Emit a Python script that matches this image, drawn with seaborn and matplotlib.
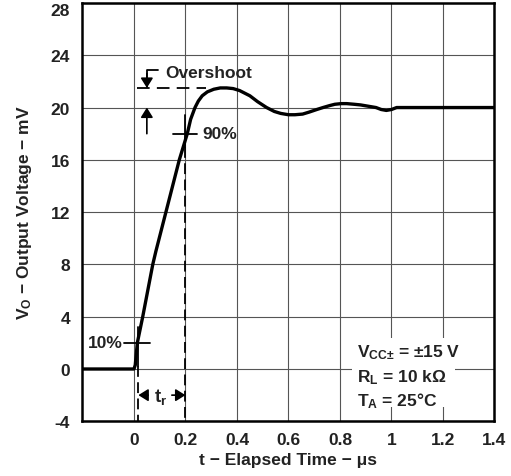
import matplotlib
matplotlib.use("Agg")
import matplotlib.pyplot as plt
import seaborn as sns
import pandas as pd

# ---- data ----
time_us = [-0.2, 0.0, 0.005, 0.013, 0.034, 0.073, 0.085, 0.124, 0.176, 0.207, 0.22, 0.237,
           0.25, 0.265, 0.285, 0.31, 0.335, 0.36, 0.385, 0.41, 0.45, 0.48, 0.515, 0.545,
           0.57, 0.6, 0.625, 0.655, 0.68, 0.71, 0.734, 0.76, 0.78, 0.805, 0.826, 0.855,
           0.88, 0.91, 0.94, 0.96, 0.98, 1.0, 1.02, 1.4]
vout_mv = [0, 0, 0.3, 2, 4, 8, 9, 12, 16, 18, 19.1, 20.0,
           20.5, 20.9, 21.2, 21.4, 21.5, 21.5, 21.45, 21.3, 20.9, 20.45, 20.0, 19.7,
           19.55, 19.45, 19.45, 19.5, 19.65, 19.85, 20.0, 20.15, 20.25, 20.3, 20.3, 20.25,
           20.2, 20.1, 20.0, 19.85, 19.78, 19.85, 20.0, 20.0]
x_ticks = [0, 0.2, 0.4, 0.6, 0.8, 1.0, 1.2, 1.4]
x_tick_labels = ["0", "0.2", "0.4", "0.6", "0.8", "1", "1.2", "1.4"]
y_ticks = [-4, 0, 4, 8, 12, 16, 20, 24, 28]
overshoot_level = 21.5
final_level = 20
t10, v10 = 0.017, 2
t90, v90 = 0.2, 18

sns.set_theme(style="white")
plt.rcParams["font.family"] = ["Liberation Sans", "DejaVu Sans"]
plt.rcParams["font.weight"] = "bold"
plt.rcParams["mathtext.fontset"] = "custom"
plt.rcParams["mathtext.rm"] = "Liberation Sans:bold"
plt.rcParams["mathtext.bf"] = "Liberation Sans:bold"
plt.rcParams["mathtext.it"] = "Liberation Sans:bold"
plt.rcParams["mathtext.default"] = "bf"

FS = 12.5
TXT = "#222222"

fig = plt.figure(figsize=(5.11, 4.77), dpi=100)
ax = fig.add_axes([0.1614, 0.1147, 0.8063, 0.877])

df = pd.DataFrame({"t": time_us, "v": vout_mv})
sns.lineplot(data=df, x="t", y="v", ax=ax, color="black", linewidth=2.4, zorder=5)

ax.set_xlim(-0.2, 1.4)
ax.set_ylim(-4, 28)
ax.set_xticks(x_ticks)
ax.set_xticklabels(x_tick_labels)
ax.set_yticks(y_ticks)
ax.set_yticklabels([str(y) for y in y_ticks])
ax.tick_params(axis="both", length=0, labelsize=FS)
ax.tick_params(axis="y", pad=9)
ax.tick_params(axis="x", pad=8)
for lab in ax.get_xticklabels() + ax.get_yticklabels():
    lab.set_fontweight("bold")
    lab.set_color(TXT)
ax.get_yticklabels()[-1].set_verticalalignment("top")

ax.grid(True, color="#555555", linewidth=0.8)
for s in ax.spines.values():
    s.set_color("black")
    s.set_linewidth(1.8)

ax.set_xlabel("t \u2212 Elapsed Time \u2212 \u03bcs", fontsize=FS, fontweight="bold", labelpad=3, color=TXT)
ax.set_ylabel("V$_\\mathbf{O}$ \u2212 Output Voltage \u2212 mV",
              fontsize=FS, fontweight="bold", labelpad=12, color=TXT)

k = dict(color="black", linewidth=1.3, zorder=6)
ap = dict(arrowstyle="-|>,head_length=0.45,head_width=0.28", color="black", lw=1.2,
          mutation_scale=13, shrinkA=0, shrinkB=0)
# overshoot annotation
ax.plot([0.01, 0.28], [overshoot_level, overshoot_level], dashes=(7, 4), **k)
ax.plot([0.05, 0.05, 0.095], [21.6, 22.9, 22.9], **k)
ax.annotate("", xy=(0.05, overshoot_level), xytext=(0.05, 22.6), arrowprops=ap, zorder=6)
ax.annotate("", xy=(0.05, final_level), xytext=(0.05, 18.0), arrowprops=ap, zorder=6)
ax.text(0.12, 22.7, "Overshoot", fontsize=FS, fontweight="bold", va="center", ha="left", color=TXT)

# 90 % marker
ax.plot([0.153, 0.244], [v90, v90], **k)
ax.plot([t90, t90], [19.4, 17.0], **k)
ax.plot([t90, t90], [17.0, -4], dashes=(6, 3), **k)
ax.text(0.265, v90, "90%", fontsize=FS, fontweight="bold", va="center", ha="left", color=TXT)

# 10 % marker
ax.plot([-0.04, 0.062], [v10, v10], **k)
ax.plot([t10, t10], [3.2, 0.25], **k)
ax.plot([t10, t10], [0.25, -4], dashes=(6, 3), **k)
ax.text(-0.045, v10, "10%", fontsize=FS, fontweight="bold", va="center", ha="right", color=TXT)

# rise time arrows
ax.annotate("", xy=(t10, -2.0), xytext=(0.055, -2.0), arrowprops=ap, zorder=6)
ax.annotate("", xy=(t90, -2.0), xytext=(0.147, -2.0), arrowprops=ap, zorder=6)
ax.text(0.102, -2.1, "t$_\\mathbf{r}$", fontsize=FS + 1, fontweight="bold", va="center", ha="center", color=TXT)

# conditions box
ax.fill_between([0.846, 1.246], [-2.9, -2.9], [2.4, 2.4], color="white", zorder=3, linewidth=0)
tk = dict(fontsize=FS, fontweight="bold", va="center", ha="left", color=TXT, zorder=7)
ax.text(0.865, 1.3, "V$_\\mathbf{CC\u00b1}$ = \u00b115 V", **tk)
ax.text(0.865, -0.6, "R$_\\mathbf{L}$ = 10 k\u03a9", **tk)
ax.text(0.865, -2.4, "T$_\\mathbf{A}$ = 25\u00b0C", **tk)

fig.savefig("out.png", dpi=100)
